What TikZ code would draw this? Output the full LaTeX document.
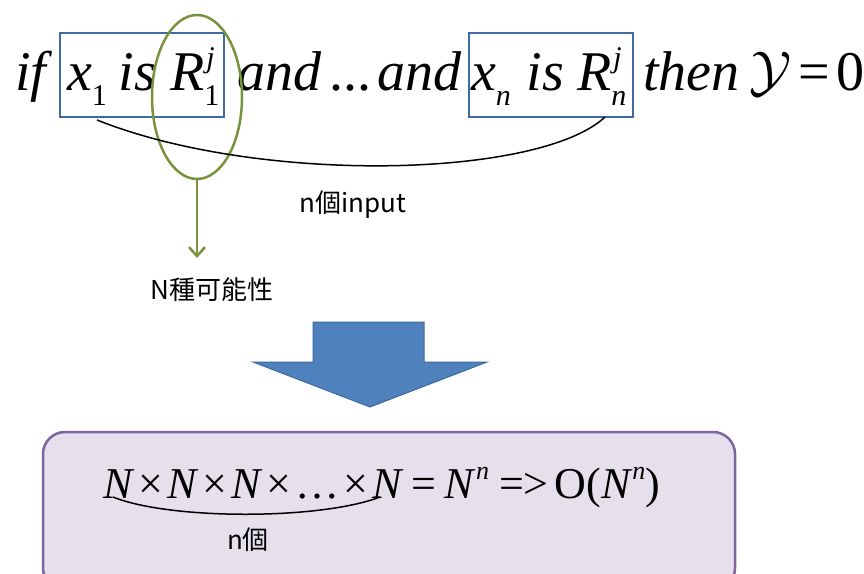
\RequirePackage{fix-cm}
\documentclass[tikz,border=0pt]{standalone}
\usepackage{amsmath}
\usepackage{fontspec}
\setmainfont{Liberation Serif}
\newfontfamily\cjk{Noto Sans CJK TC}
\usepackage{tikz}
\usetikzlibrary{arrows.meta, positioning, calc, shapes.geometric}
\definecolor{condblue}{RGB}{65,105,165}
\definecolor{selgreen}{RGB}{119,147,60}
\definecolor{arrowblue}{RGB}{79,129,189}
\definecolor{arrowedge}{RGB}{60,105,160}
\definecolor{resultbg}{RGB}{229,224,236}
\definecolor{resultedge}{RGB}{128,100,162}
\newcommand{\lowr}[1]{\raisebox{-0.27em}{\fontsize{30}{30}\selectfont #1}}
\newcommand{\upr}[1]{\raisebox{0.40em}{\fontsize{30}{30}\selectfont #1}}
\newcommand{\Rsym}[1]{\textit{R}\rlap{\upr{\kern2pt\textit{j}}}\lowr{#1}}
\newcommand{\pw}[1]{\raisebox{0.42em}{\fontsize{26}{26}\selectfont\textit{#1}}}
\newcommand{\tms}{\kern4pt×\kern4pt}

\begin{document}
\begin{tikzpicture}[x=1pt, y=-1pt,
  every node/.style={inner sep=0pt, outer sep=0pt},
  rule/.style={font=\fontsize{56}{60}\selectfont\itshape, anchor=base west},
  cond/.style={rectangle, draw=condblue, line width=2.5pt,
               minimum width=164pt, minimum height=84pt},
  sel/.style={ellipse, draw=selgreen, line width=2.5pt,
              minimum width=90pt, minimum height=164pt},
  lbl/.style={font=\cjk\fontsize{26}{30}\selectfont},
  span/.style={line width=1.5pt},
  selarr/.style={-{Straight Barb[length=9pt, width=16pt, line width=2.5pt]},
                 draw=selgreen, line width=2.5pt},
  bigarrow/.style={fill=arrowblue, draw=arrowedge, line width=1pt},
  result/.style={rectangle, rounded corners=22pt, fill=resultbg,
                 draw=resultedge, line width=2.5pt,
                 minimum width=692pt, minimum height=158pt},
  formula/.style={font=\fontsize{44}{48}\selectfont, anchor=base west}
]
\useasboundingbox (0,0) rectangle (864,573);
% the fuzzy rule
\node[rule] (if) at (15,90) {if};
\node[cond] (box1) at (142,75) {};
\node[rule] (cond1) at (67,90) {x\lowr{\upshape 1}\kern12pt is\kern14pt\Rsym{\upshape 1}};
\node[rule] (mid) at (237,90) {and\kern8pt\upshape...\kern6pt\itshape and};
\node[cond] (box2) at (551,75) {};
\node[rule] (condn) at (471,90) {x\lowr{n}\kern16pt is\kern13pt\Rsym{n}};
\node[rule] (then) at (643,90) {then\kern10pt\upshape$\mathcal{Y}$\kern7pt=\kern6pt0};
\node[sel] (pick) at (197,97) {};
% inputs and choices
\coordinate (spanL) at (97,120);
\coordinate (spanR) at (605,117);
\draw[span] (spanL) .. controls (260,185) and (540,178) .. (spanR);
\node[lbl] (ninput) at (353,205) {n個input};
\coordinate (posstip) at (197,258);
\draw[selarr] (pick.south) -- (posstip);
\node[lbl] (nposs) at (212,290) {N種可能性};
% big arrow
\draw[bigarrow] (313,322) -- (424,322) -- (424,362) -- (487,362)
  -- (370,407) -- (253,362) -- (313,362) -- cycle;
% result
\node[result] (res) at (389,511) {};
\node[formula] (eq) at (103,498)
  {\textit{N}\tms\textit{N}\tms\textit{N}\tms\ldots\tms\textit{N}\kern8pt=\kern8pt\textit{N}\pw{n}\kern10pt=>\kern6pt O(\textit{N}\pw{n})};
\coordinate (prodL) at (113,497);
\coordinate (prodR) at (380,497);
\draw[span] (prodL) .. controls (170,520) and (320,520) .. (prodR);
\node[lbl] (ncount) at (248,540) {n個};
\end{tikzpicture}
\end{document}
